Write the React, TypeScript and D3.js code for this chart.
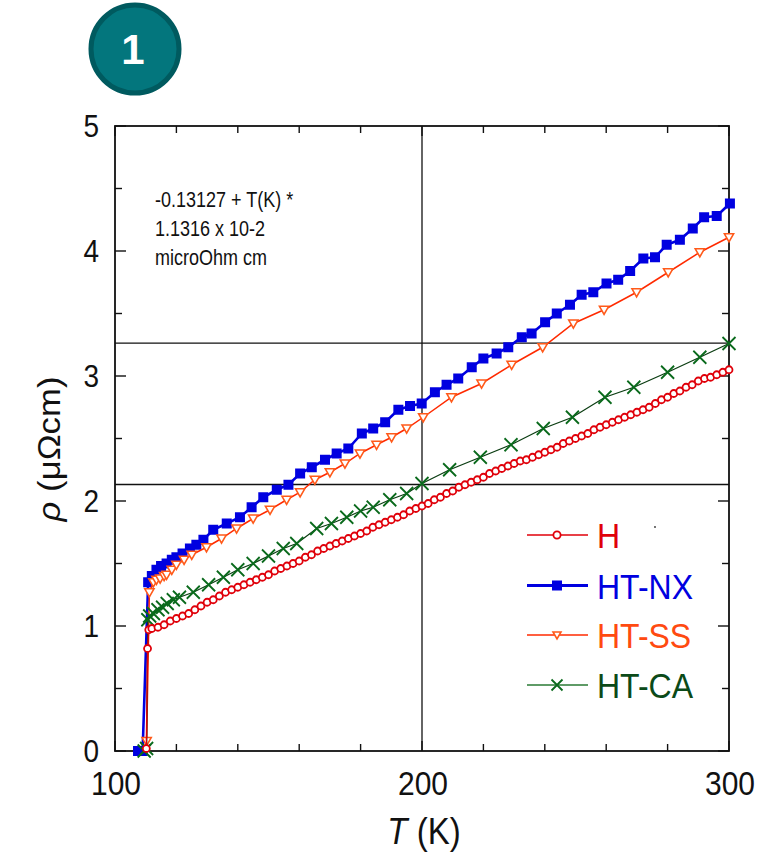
import React from "react";
import * as d3 from "d3";

const hT = [110.2, 110.6, 111, 112, 114, 116, 118, 120, 122, 124, 126, 128, 130, 132, 134, 136, 138, 140, 142, 144, 146, 148, 150, 152, 154, 156, 158, 160, 162, 164, 166, 168, 170, 172, 174, 176, 178, 180, 182, 184, 186, 188, 190, 192, 194, 196, 198, 200, 202, 204, 206, 208, 210, 212, 214, 216, 218, 220, 222, 224, 226, 228, 230, 232, 234, 236, 238, 240, 242, 244, 246, 248, 250, 252, 254, 256, 258, 260, 262, 264, 266, 268, 270, 272, 274, 276, 278, 280, 282, 284, 286, 288, 290, 292, 294, 296, 298, 300];
const hV = [0.02, 0.82, 0.97, 0.98, 0.99, 1.01, 1.04, 1.06, 1.08, 1.10, 1.13, 1.16, 1.19, 1.21, 1.24, 1.27, 1.29, 1.31, 1.33, 1.35, 1.37, 1.39, 1.41, 1.44, 1.46, 1.48, 1.50, 1.52, 1.55, 1.57, 1.60, 1.62, 1.64, 1.66, 1.68, 1.70, 1.72, 1.74, 1.76, 1.79, 1.81, 1.83, 1.85, 1.87, 1.89, 1.92, 1.94, 1.96, 1.98, 2.01, 2.03, 2.06, 2.08, 2.11, 2.13, 2.15, 2.17, 2.19, 2.22, 2.24, 2.26, 2.28, 2.30, 2.32, 2.33, 2.35, 2.37, 2.39, 2.41, 2.43, 2.46, 2.48, 2.50, 2.52, 2.54, 2.57, 2.59, 2.61, 2.63, 2.65, 2.67, 2.69, 2.71, 2.73, 2.75, 2.78, 2.81, 2.83, 2.86, 2.88, 2.91, 2.93, 2.96, 2.98, 2.99, 3.01, 3.03, 3.05];

const nxT = [107.5, 109, 110.8, 112, 113.5, 115, 116.8, 118.5, 120, 122, 124.4, 126.5, 128.8, 132, 136.4, 140.7, 144.5, 148.3, 152.7, 156.5, 160.3, 164.1, 168.4, 172.2, 176, 180.4, 184.1, 188, 192.3, 196.1, 199.9, 204.2, 208, 211.8, 216.2, 220, 224.3, 228.1, 232.5, 235.7, 240.1, 243.9, 248.2, 252, 255.8, 260.1, 263.9, 267.8, 272.1, 275.9, 279.7, 284, 288.2, 291.9, 296, 300.3];
const nxV = [0.0, 0.0, 1.35, 1.40, 1.45, 1.48, 1.50, 1.53, 1.55, 1.58, 1.62, 1.65, 1.69, 1.77, 1.82, 1.87, 1.95, 2.03, 2.09, 2.13, 2.22, 2.27, 2.33, 2.38, 2.42, 2.54, 2.58, 2.63, 2.73, 2.76, 2.78, 2.87, 2.93, 2.98, 3.07, 3.14, 3.18, 3.23, 3.31, 3.34, 3.43, 3.50, 3.57, 3.65, 3.67, 3.74, 3.77, 3.84, 3.94, 3.95, 4.05, 4.09, 4.18, 4.27, 4.28, 4.38];

const ssT = [110.3, 111.2, 112.5, 113.5, 114.7, 116, 116.8, 118.5, 120, 122.5, 125, 129.8, 134.7, 139.6, 145, 150.5, 155.9, 160.3, 165.1, 170, 174.9, 179.8, 185.2, 190.1, 195, 200.4, 209.6, 219.4, 229.2, 239.3, 249.3, 259.3, 269.9, 280.2, 290.5, 300];
const ssV = [0.08, 1.27, 1.35, 1.37, 1.38, 1.40, 1.41, 1.45, 1.49, 1.53, 1.57, 1.63, 1.70, 1.78, 1.86, 1.93, 2.01, 2.07, 2.17, 2.23, 2.30, 2.38, 2.45, 2.51, 2.58, 2.67, 2.83, 2.94, 3.09, 3.23, 3.42, 3.53, 3.67, 3.83, 3.99, 4.11];

const caT = [109.5, 110.3, 110.7, 111.3, 112.5, 114, 115.5, 117, 119, 121, 125.5, 130.5, 135.3, 140, 145, 150, 154.8, 159.2, 165.7, 170.5, 175.5, 180, 184.1, 189.5, 195, 200, 209, 219, 229, 239.5, 249, 259.6, 269, 280, 290.5, 300];
const caV = [0.0, 0.02, 1.05, 1.08, 1.10, 1.13, 1.15, 1.18, 1.21, 1.23, 1.27, 1.33, 1.39, 1.45, 1.50, 1.56, 1.62, 1.66, 1.78, 1.82, 1.87, 1.92, 1.95, 2.01, 2.06, 2.14, 2.25, 2.35, 2.45, 2.58, 2.67, 2.83, 2.91, 3.03, 3.15, 3.26];

const xTickLabels = [100, 200, 300];
const yTickLabels = [0, 1, 2, 3, 4, 5];
const refLevels = [3.2635, 2.132];
const refTemp = [200];
const legendNames = ["H", "HT-NX", "HT-SS", "HT-CA"];
const noteLines = ["-0.13127 + T(K) *", "1.1316 x 10-2", "microOhm cm"];

const FONT = "'Liberation Sans', Arial, Helvetica, sans-serif";

type Pt = [number, number];

function zip(t: number[], v: number[]): Pt[] {
  return t.map((d, i) => [d, v[i]] as Pt);
}

export default function App() {
  const W = 782, H = 855;
  const x = d3.scaleLinear().domain([100, 300]).range([115, 729]);
  const y = d3.scaleLinear().domain([0, 5]).range([751, 126]);
  const line = d3.line<Pt>().x((d) => x(d[0])).y((d) => y(d[1]));

  const seriesH = zip(hT, hV);
  const seriesNX = zip(nxT, nxV);
  const seriesSS = zip(ssT, ssV);
  const seriesCA = zip(caT, caV);

  const colH = "#e0000a";
  const colNX = "#0000e0";
  const colSSline = "#ff2a00";
  const colSSmark = "#ff5a1a";
  const colCAline = "#0b3d12";
  const colCAmark = "#0a6a1c";

  const xMinor = d3.range(100, 301, 20);
  const yMinor = d3.range(0, 5.01, 0.5);

  const circleMark = (cx: number, cy: number, k: string) => (
    <circle key={k} cx={cx} cy={cy} r={3.5} fill="white" stroke={colH} strokeWidth={1.8} />
  );
  const squareMark = (cx: number, cy: number, k: string, s = 10) => (
    <rect key={k} x={cx - s / 2} y={cy - s / 2} width={s} height={s} fill={colNX} />
  );
  const triMark = (cx: number, cy: number, k: string, s = 4.6) => (
    <path
      key={k}
      d={`M${cx - s},${cy - s * 0.75} L${cx + s},${cy - s * 0.75} L${cx},${cy + s} Z`}
      fill="white"
      stroke={colSSmark}
      strokeWidth={1.6}
    />
  );
  const xMark = (cx: number, cy: number, k: string, s = 6.5) => (
    <path
      key={k}
      d={`M${cx - s},${cy - s} L${cx + s},${cy + s} M${cx - s},${cy + s} L${cx + s},${cy - s}`}
      stroke={colCAmark}
      strokeWidth={1.8}
      fill="none"
    />
  );

  const legendY = [535, 585.5, 635, 685];
  const legendCols = [colH, colNX, "#ff4a10", "#0b4a18"];
  const legendLineCols = [colH, colNX, colSSline, "#2a7a35"];
  const legendLineW = [1.6, 3, 1.6, 1.3];

  const stretched = (
    tx: number,
    ty: number,
    sy: number,
    content: React.ReactNode,
    props: any,
    key?: string
  ) => (
    <g key={key} transform={`translate(${tx},${ty}) scale(1,${sy})`}>
      <text x={0} y={0} {...props}>
        {content}
      </text>
    </g>
  );

  return (
    <svg
      width={W}
      height={H}
      viewBox={`0 0 ${W} ${H}`}
      style={{ position: "absolute", left: 0, top: 0, background: "white" }}
      fontFamily={FONT}
    >
      <rect x={0} y={0} width={W} height={H} fill="white" />

      {/* badge */}
      <circle cx={135} cy={49} r={44} fill="#03767d" stroke="#005a5f" strokeWidth={5} />
      <text x={133} y={64} textAnchor="middle" fill="white" fontSize={42} fontWeight="bold">
        1
      </text>

      {/* reference lines */}
      {refLevels.map((v) => (
        <line key={"h" + v} x1={x(100)} x2={x(300)} y1={y(v)} y2={y(v)} stroke="#111" strokeWidth={1.3} />
      ))}
      {refTemp.map((t) => (
        <line key={"v" + t} x1={x(t)} x2={x(t)} y1={y(0)} y2={y(5)} stroke="#111" strokeWidth={1.3} />
      ))}

      {/* ticks */}
      {xMinor.map((t) => {
        const major = t % 100 === 0;
        const len = major ? 10 : 7;
        return (
          <g key={"xt" + t}>
            <line x1={x(t)} x2={x(t)} y1={y(0)} y2={y(0) - len} stroke="#111" strokeWidth={1.4} />
            <line x1={x(t)} x2={x(t)} y1={y(5)} y2={y(5) + len} stroke="#111" strokeWidth={1.4} />
          </g>
        );
      })}
      {yMinor.map((v) => {
        const major = Math.abs(v - Math.round(v)) < 1e-6;
        const len = major ? 11 : 7;
        return (
          <g key={"yt" + v}>
            <line x1={x(100)} x2={x(100) + len} y1={y(v)} y2={y(v)} stroke="#111" strokeWidth={1.4} />
            <line x1={x(300)} x2={x(300) - len} y1={y(v)} y2={y(v)} stroke="#111" strokeWidth={1.4} />
          </g>
        );
      })}

      {/* frame */}
      <rect
        x={x(100)}
        y={y(5)}
        width={x(300) - x(100)}
        height={y(0) - y(5)}
        fill="none"
        stroke="#111"
        strokeWidth={1.8}
      />

      {/* tick labels */}
      {xTickLabels.map((t) =>
        stretched(x(t) + 1, 795, 1.12, String(t), { textAnchor: "middle", fontSize: 30, fill: "#111" }, "xl" + t)
      )}
      {yTickLabels.map((v) =>
        stretched(99, y(v) + 11, 1.12, String(v), { textAnchor: "end", fontSize: 28, fill: "#111" }, "yl" + v)
      )}

      {/* axis titles */}
      <g transform={`translate(424,844) scale(1,1.12)`}>
        <text x={0} y={0} textAnchor="middle" fontSize={33} fill="#111">
          <tspan fontStyle="italic">T</tspan>
          <tspan> (K)</tspan>
        </text>
      </g>
      <g transform={`translate(60,449) rotate(-90) scale(1.12,1)`}>
        <text x={0} y={0} textAnchor="middle" fontSize={31} fill="#111">
          <tspan fontStyle="italic">ρ</tspan>
          <tspan> (μΩcm)</tspan>
        </text>
      </g>

      {/* annotation */}
      {noteLines.map((s, i) =>
        stretched(155, 207 + i * 29, 1.25, s, { fontSize: 18, fill: "#111" }, "n" + i)
      )}

      {/* series HT-NX */}
      <path d={line(seriesNX) || ""} fill="none" stroke={colNX} strokeWidth={2.6} />
      {seriesNX.map((d, i) => squareMark(x(d[0]), y(d[1]), "nx" + i))}

      {/* series HT-SS */}
      <path d={line(seriesSS) || ""} fill="none" stroke={colSSline} strokeWidth={1.5} />
      {seriesSS.map((d, i) => triMark(x(d[0]), y(d[1]), "ss" + i))}

      {/* series HT-CA */}
      <path d={line(seriesCA) || ""} fill="none" stroke={colCAline} strokeWidth={1.3} />
      {seriesCA.map((d, i) => xMark(x(d[0]), y(d[1]), "ca" + i))}

      {/* series H */}
      <path d={line(seriesH) || ""} fill="none" stroke={colH} strokeWidth={1.4} />
      {seriesH.map((d, i) => circleMark(x(d[0]), y(d[1]), "h" + i))}

      {/* legend */}
      {legendNames.map((name, i) => {
        const ly = legendY[i];
        let mark: React.ReactNode = null;
        if (i === 0) mark = <circle cx={557} cy={ly} r={3.6} fill="white" stroke={colH} strokeWidth={1.8} />;
        if (i === 1) mark = squareMark(557, ly, "lg1", 10);
        if (i === 2) mark = triMark(557, ly, "lg2", 4);
        if (i === 3) mark = xMark(557, ly, "lg3", 5.5);
        return (
          <g key={"lg" + i}>
            <line x1={527} x2={588} y1={ly} y2={ly} stroke={legendLineCols[i]} strokeWidth={legendLineW[i]} />
            {mark}
            {stretched(597, ly + 13, 1.08, name, { fontSize: 32, fill: legendCols[i] })}
          </g>
        );
      })}
      <circle cx={655} cy={527} r={0.9} fill="#333" />
    </svg>
  );
}
